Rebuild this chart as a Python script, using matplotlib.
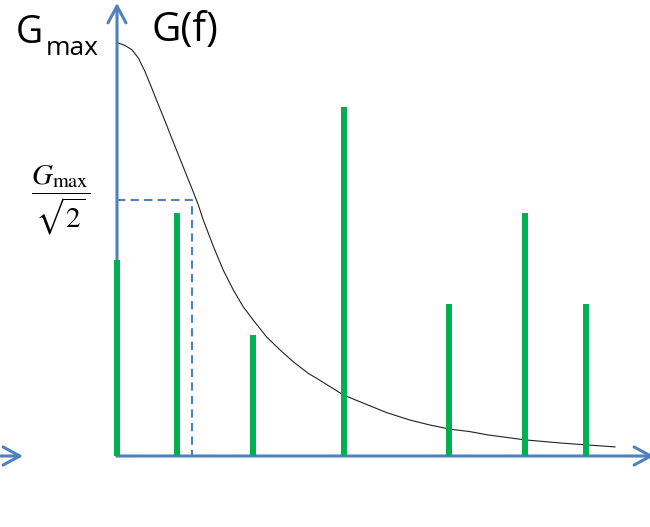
import numpy as np
import matplotlib
matplotlib.use('Agg')
import matplotlib.pyplot as plt

plt.rcParams['mathtext.fontset'] = 'stix'

# spectral lines (frequency in units of f_c, amplitude relative to G_max)
line_f = [0.0, 0.80, 1.81, 3.03, 4.43, 5.44, 6.25]
line_a = [0.475, 0.588, 0.293, 0.845, 0.368, 0.588, 0.368]

# filter response G(f)
curve_f = [0.017, 0.107, 0.196, 0.284, 0.373, 0.463, 0.551, 0.640, 0.729, 0.817,
           0.907, 0.996, 1.084, 1.151, 1.284, 1.417, 1.551, 1.684, 1.817, 1.996,
           2.173, 2.351, 2.551, 2.663, 2.840, 3.017, 3.284, 3.596, 3.907, 4.173,
           4.440, 4.707, 4.947, 5.440, 5.947, 6.253, 6.640]
curve_g = [1.000, 0.994, 0.984, 0.964, 0.931, 0.891, 0.851, 0.811, 0.770, 0.730,
           0.689, 0.649, 0.608, 0.571, 0.508, 0.450, 0.402, 0.361, 0.329, 0.288,
           0.257, 0.228, 0.200, 0.188, 0.168, 0.148, 0.128, 0.105, 0.087, 0.075,
           0.065, 0.059, 0.051, 0.039, 0.031, 0.027, 0.022]

f_cut = 1.0
g_cut = 0.62

blue = '#4F81BD'
green = '#00B050'

fig = plt.figure(figsize=(6.5, 5.27), dpi=100)
ax = fig.add_axes([0, 0, 1, 1])
ax.set_xlim(-117/75, 533/75)
ax.set_ylim(-71/413, 456/413)
ax.axis('off')

# spectral lines
ax.vlines(line_f, 0, line_a, color=green, lw=4.3, zorder=6)

# curve
ax.plot(curve_f, curve_g, color='#222222', lw=0.8, zorder=4,
        solid_joinstyle='round')

# cutoff dashed guide
ax.plot([0, f_cut, f_cut], [g_cut, g_cut, 0], color=blue, lw=1.5,
        dashes=(4, 2.5), zorder=2)

# axes with open arrowheads
arr = dict(arrowstyle='->,head_length=1.2,head_width=0.65', lw=2.2,
           color=blue, shrinkA=0, shrinkB=0)
ax.annotate('', xy=(0, 453/413), xytext=(0, 0), arrowprops=arr, zorder=5,
            annotation_clip=False)
ax.annotate('', xy=(537/75, 0), xytext=(0, 0), arrowprops=arr, zorder=5,
            annotation_clip=False)
ax.annotate('', xy=(-94/75, 0), xytext=(-117/75, 0), arrowprops=arr, zorder=5,
            annotation_clip=False)

# labels
ax.text(-101/75, 413/413, 'G', fontsize=27, family='Open Sans', va='baseline', ha='left')
ax.text(-71/75, 401/413, 'max', fontsize=19, family='Open Sans', va='baseline', ha='left')
ax.text(34/75, 415/413, 'G(f)', fontsize=29, family='Open Sans', va='baseline', ha='left')
ax.text(-56/75, g_cut, r'$\dfrac{G_{\mathrm{max}}}{\sqrt{2}}$', fontsize=21,
        ha='center', va='center')

fig.savefig('out.png', dpi=100)
